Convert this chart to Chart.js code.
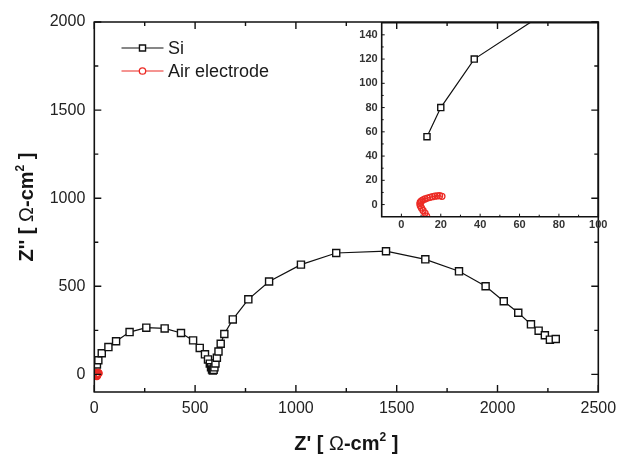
<!DOCTYPE html>
<html>
<head>
<meta charset="utf-8">
<script src="https://cdn.jsdelivr.net/npm/chart.js@4/dist/chart.umd.min.js"></script>
<style>
  body { margin: 0; background: #fff; }
  #wrap { position: relative; width: 617px; height: 456px; }
  #main { position: absolute; left: 0; top: 0; }
  #inset { position: absolute; left: 350px; top: 0; }
</style>
</head>
<body>
<div id="wrap">
  <canvas id="main" width="617" height="456"></canvas>
  <canvas id="inset" width="267" height="240"></canvas>
</div>
<script>
// Si cell impedance, Z' and Z'' in ohm-cm2
const siZre = [13, 20, 37, 70, 108, 175, 258, 349, 430, 490, 523, 549, 564, 573, 579, 584, 588, 592, 596, 601,
               608, 616, 627, 645, 687, 764, 867, 1025, 1200, 1447, 1642, 1809, 1941, 2031, 2103, 2166, 2204, 2235, 2260, 2289];
const siZim = [56, 80, 120, 155, 188, 240, 265, 261, 235, 193, 150, 114, 85, 61, 40, 28, 22, 26, 40, 62,
               95, 130, 174, 229, 312, 426, 527, 623, 689, 699, 653, 585, 500, 415, 350, 284, 248, 222, 197, 201];

// air electrode impedance
const airZre = [12.8, 12.0, 11.0, 10.2, 9.6, 9.4, 9.6, 10.2, 11.0, 12.0, 13.2, 14.5, 15.8, 17.0, 18.2, 19.4, 20.6];
const airZim = [-9.5, -7.0, -4.8, -2.8, -1.0, 0.6, 2.0, 3.0, 3.9, 4.7, 5.4, 6.0, 6.5, 6.9, 7.2, 7.3, 6.8];

const seriesNames = ['Si', 'Air electrode'];

const mainXTicks = [0, 500, 1000, 1500, 2000, 2500];
const mainYTicks = [0, 500, 1000, 1500, 2000];
const insetXTicks = [0, 20, 40, 60, 80, 100];
const insetYTicks = [0, 20, 40, 60, 80, 100, 120, 140];

const FONT = '"Liberation Sans", Arial, sans-serif';
const RED = '#ec2b25';
const INK = '#111';

function toPoints(xs, ys) {
  return xs.map((x, i) => ({ x: x, y: ys[i] }));
}

function midpoints(ticks) {
  return ticks.slice(1).map((v, i) => (v + ticks[i]) / 2);
}

function siDataset(radius) {
  return {
    label: seriesNames[0],
    data: toPoints(siZre, siZim),
    showLine: true,
    borderColor: INK,
    borderWidth: 1.2,
    pointStyle: 'rect',
    pointRadius: radius,
    pointBorderWidth: 1.4,
    pointBorderColor: INK,
    pointBackgroundColor: '#fff',
    order: 2
  };
}

function airDataset(radius) {
  return {
    label: seriesNames[1],
    data: toPoints(airZre, airZim),
    showLine: true,
    borderColor: RED,
    borderWidth: 1.2,
    pointStyle: 'circle',
    pointRadius: radius,
    pointBorderWidth: 1.3,
    pointBorderColor: RED,
    pointBackgroundColor: 'rgba(255,255,255,0)',
    order: 1
  };
}

// box frame, inward ticks and tick labels drawn from the chart's own scales
function frameAxes(o) {
  return {
    id: 'frameAxes',
    afterDraw(chart) {
      const ctx = chart.ctx, a = chart.chartArea;
      const xs = chart.scales.x, ys = chart.scales.y;
      ctx.save();
      ctx.strokeStyle = INK;
      ctx.lineWidth = o.lineWidth;
      ctx.beginPath();
      ctx.rect(a.left, a.top, a.right - a.left, a.bottom - a.top);
      ctx.stroke();

      ctx.lineWidth = o.tickWidth;
      ctx.beginPath();
      const xMarks = o.xTicks.map(v => [v, o.major]).concat(midpoints(o.xTicks).map(v => [v, o.minor]));
      const yMarks = o.yTicks.map(v => [v, o.major]).concat(midpoints(o.yTicks).map(v => [v, o.minor]));
      xMarks.forEach(([v, len]) => {
        const px = xs.getPixelForValue(v);
        ctx.moveTo(px, a.bottom); ctx.lineTo(px, a.bottom - len);
        if (o.mirror) { ctx.moveTo(px, a.top); ctx.lineTo(px, a.top + len); }
      });
      yMarks.forEach(([v, len]) => {
        const py = ys.getPixelForValue(v);
        ctx.moveTo(a.left, py); ctx.lineTo(a.left + len, py);
        if (o.mirror) { ctx.moveTo(a.right, py); ctx.lineTo(a.right - len, py); }
      });
      ctx.stroke();

      ctx.fillStyle = o.labelColor;
      ctx.font = o.font;
      ctx.textBaseline = 'middle';
      ctx.textAlign = 'center';
      o.xTicks.forEach(v => ctx.fillText(String(v), xs.getPixelForValue(v), a.bottom + o.xLabelGap));
      ctx.textAlign = 'right';
      o.yTicks.forEach(v => ctx.fillText(String(v), a.left - o.yLabelGap, ys.getPixelForValue(v)));
      ctx.restore();
    }
  };
}

// text runs with a raised superscript
function drawRuns(ctx, runs, x, y) {
  let total = 0;
  runs.forEach(r => { ctx.font = r.font; total += ctx.measureText(r.text).width; });
  let cx = x - total / 2;
  ctx.textAlign = 'left';
  ctx.textBaseline = 'alphabetic';
  runs.forEach(r => {
    ctx.font = r.font;
    ctx.fillText(r.text, cx, y + (r.dy || 0));
    cx += ctx.measureText(r.text).width;
  });
}

function unitRuns(prefix) {
  const b = 'bold 20px ' + FONT;
  return [
    { text: prefix + ' [ ', font: b },
    { text: 'Ω', font: '20px ' + FONT },
    { text: '-cm', font: b },
    { text: '2', font: 'bold 12px ' + FONT, dy: -9 },
    { text: ' ]', font: b }
  ];
}

const axisTitles = {
  id: 'axisTitles',
  afterDraw(chart) {
    const ctx = chart.ctx, a = chart.chartArea;
    ctx.save();
    ctx.fillStyle = '#151515';
    drawRuns(ctx, unitRuns("Z'"), (a.left + a.right) / 2, 450);
    ctx.translate(33, (a.top + a.bottom) / 2);
    ctx.rotate(-Math.PI / 2);
    drawRuns(ctx, unitRuns("Z''"), 0, 0);
    ctx.restore();
  }
};

const plotLegend = {
  id: 'plotLegend',
  afterDraw(chart) {
    const ctx = chart.ctx;
    ctx.save();
    chart.data.datasets.forEach((ds, i) => {
      const y = 48 + i * 23;
      ctx.strokeStyle = ds.borderColor;
      ctx.lineWidth = ds.borderWidth;
      ctx.beginPath();
      ctx.moveTo(121.5, y); ctx.lineTo(163.5, y);
      ctx.stroke();
      ctx.fillStyle = '#fff';
      ctx.strokeStyle = ds.pointBorderColor;
      ctx.lineWidth = ds.pointBorderWidth;
      Chart.helpers.drawPoint(ctx, {
        pointStyle: ds.pointStyle,
        radius: ds.pointStyle === 'rect' ? 4.3 : 3.2,
        rotation: 0,
        borderWidth: ds.pointBorderWidth
      }, 142.5, y);
      ctx.fillStyle = '#1a1a1a';
      ctx.font = '18px ' + FONT;
      ctx.textAlign = 'left';
      ctx.textBaseline = 'middle';
      ctx.fillText(ds.label, 168, y + 1);
    });
    ctx.restore();
  }
};

new Chart(document.getElementById('main'), {
  type: 'scatter',
  data: { datasets: [siDataset(5), airDataset(3.6)] },
  options: {
    responsive: false,
    animation: false,
    layout: { padding: { left: 94.3, right: 18.7, top: 22, bottom: 64 } },
    plugins: { legend: { display: false }, tooltip: { enabled: false } },
    scales: {
      x: { type: 'linear', min: 0, max: 2500, display: false },
      y: { type: 'linear', min: -100, max: 2000, display: false }
    }
  },
  plugins: [
    frameAxes({
      xTicks: mainXTicks, yTicks: mainYTicks, mirror: true,
      major: 7, minor: 4, lineWidth: 1.6, tickWidth: 1.4,
      font: '16px ' + FONT, labelColor: '#222', xLabelGap: 17, yLabelGap: 9
    }),
    axisTitles,
    plotLegend
  ]
});

new Chart(document.getElementById('inset'), {
  type: 'scatter',
  data: { datasets: [siDataset(4.3), airDataset(3)] },
  options: {
    responsive: false,
    animation: false,
    layout: { padding: { left: 31.7, right: 18.7, top: 22.7, bottom: 23.3 } },
    plugins: { legend: { display: false }, tooltip: { enabled: false } },
    scales: {
      x: { type: 'linear', min: -10, max: 100, display: false },
      y: { type: 'linear', min: -10, max: 150, display: false }
    }
  },
  plugins: [
    frameAxes({
      xTicks: insetXTicks, yTicks: insetYTicks, mirror: false,
      major: 3, minor: 2, lineWidth: 1.6, tickWidth: 1,
      font: 'bold 11px ' + FONT, labelColor: '#333', xLabelGap: 8.5, yLabelGap: 4
    })
  ]
});
</script>
</body>
</html>
